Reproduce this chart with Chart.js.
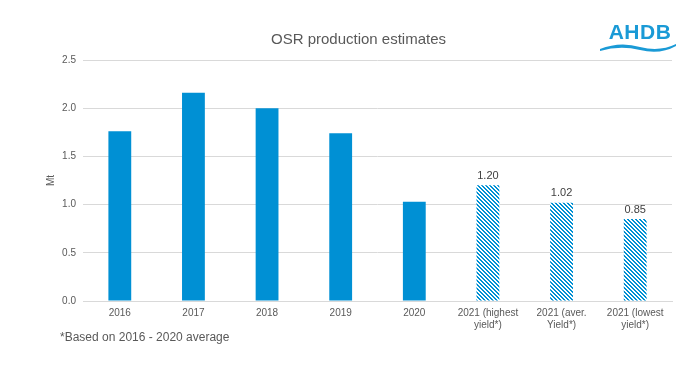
<!DOCTYPE html>
<html lang="en">
<head>
    <meta charset="UTF-8">
    <title>OSR production estimates</title>
    <script src="https://cdn.jsdelivr.net/npm/chart.js"></script>
    <style>
        body {
            margin: 0;
            background-color: white;
            font-family: "Liberation Sans", Arial, sans-serif;
        }

        #wrap {
            position: relative;
            width: 696px;
            height: 369px;
        }

        #logo {
            position: absolute;
            left: 600px;
            top: 20px;
            width: 80px;
            color: #1a9ad6;
            font-weight: bold;
            font-size: 21px;
            letter-spacing: 0.5px;
            text-align: center;
        }

        #logo svg {
            display: block;
            margin-top: -3px;
        }
    </style>
</head>
<body>
    <div id="wrap">
        <canvas id="osrChart" width="696" height="369"></canvas>
        <div id="logo">
            AHDB
            <svg width="80" height="12" viewBox="0 0 80 12">
                <path d="M0 8 Q20 0 40 6 Q60 11 76 3 L76 5 Q60 14 40 9 Q20 4 0 10 Z" fill="#1a9ad6"/>
            </svg>
        </div>
    </div>

    <script>
        // production, Mt
        const years = ['2016', '2017', '2018', '2019', '2020',
            ['2021 (highest', 'yield*)'], ['2021 (aver.', 'Yield*)'], ['2021 (lowest', 'yield*)']];
        const production = [1.76, 2.16, 2.00, 1.74, 1.03, 1.20, 1.02, 0.85];
        const estimated = [false, false, false, false, false, true, true, true];
        const footnote = '*Based on 2016 - 2020 average';

        const blue = '#0090d4';
        const grey = '#595959';

        // diagonal hatching for the 2021 estimates
        function makeHatch() {
            const c = document.createElement('canvas');
            c.width = 4;
            c.height = 4;
            const g = c.getContext('2d');
            g.fillStyle = 'white';
            g.fillRect(0, 0, 4, 4);
            g.fillStyle = blue;
            for (let y = 0; y < 4; y++) {
                for (let x = 0; x < 4; x++) {
                    const d = ((x - y) % 4 + 4) % 4;
                    if (d === 0 || d === 1) g.fillRect(x, y, 1, 1);
                }
            }
            return g.createPattern(c, 'repeat');
        }

        const ctx = document.getElementById('osrChart').getContext('2d');
        const hatch = makeHatch();

        // value labels above hatched bars + footnote
        const extras = {
            id: 'extras',
            afterDatasetsDraw(chart) {
                const c = chart.ctx;
                const meta = chart.getDatasetMeta(0);
                c.save();
                c.font = '11px "Liberation Sans", Arial, sans-serif';
                c.fillStyle = '#404040';
                c.textAlign = 'center';
                c.textBaseline = 'bottom';
                meta.data.forEach((bar, i) => {
                    if (estimated[i]) {
                        c.fillText(production[i].toFixed(2), bar.x, bar.y - 4);
                    }
                });
                c.font = '12px "Liberation Sans", Arial, sans-serif';
                c.fillStyle = grey;
                c.textAlign = 'left';
                c.textBaseline = 'middle';
                c.fillText(footnote, 60, 338);
                c.restore();
            }
        };

        new Chart(ctx, {
            type: 'bar',
            data: {
                labels: years,
                datasets: [{
                    data: production,
                    backgroundColor: production.map((v, i) => estimated[i] ? hatch : blue),
                    barPercentage: 0.31,
                    categoryPercentage: 1
                }]
            },
            options: {
                responsive: false,
                animation: false,
                layout: { padding: { left: 45, right: 24, top: 0, bottom: 0 } },
                plugins: {
                    legend: { display: false },
                    tooltip: { enabled: false },
                    title: {
                        display: true,
                        text: 'OSR production estimates',
                        color: grey,
                        font: { family: '"Liberation Sans", Arial, sans-serif', size: 15, weight: 'normal' },
                        padding: { top: 31, bottom: 11 }
                    }
                },
                scales: {
                    x: {
                        grid: { display: false, drawTicks: false },
                        border: { color: '#d9d9d9' },
                        ticks: {
                            color: grey,
                            padding: 6,
                            maxRotation: 0,
                            autoSkip: false,
                            font: { family: '"Liberation Sans", Arial, sans-serif', size: 10 }
                        },
                        afterFit(scale) { scale.height = 68; }
                    },
                    y: {
                        min: 0,
                        max: 2.5,
                        grid: { color: '#d9d9d9', drawTicks: false },
                        border: { display: false },
                        title: {
                            display: true,
                            text: 'Mt',
                            color: grey,
                            padding: 0,
                            font: { family: '"Liberation Sans", Arial, sans-serif', size: 10 }
                        },
                        ticks: {
                            stepSize: 0.5,
                            color: grey,
                            padding: 7,
                            font: { family: '"Liberation Sans", Arial, sans-serif', size: 10 },
                            callback: v => v.toFixed(1)
                        },
                        afterFit(scale) { scale.width = 38; }
                    }
                }
            },
            plugins: [extras]
        });
    </script>
</body>
</html>
